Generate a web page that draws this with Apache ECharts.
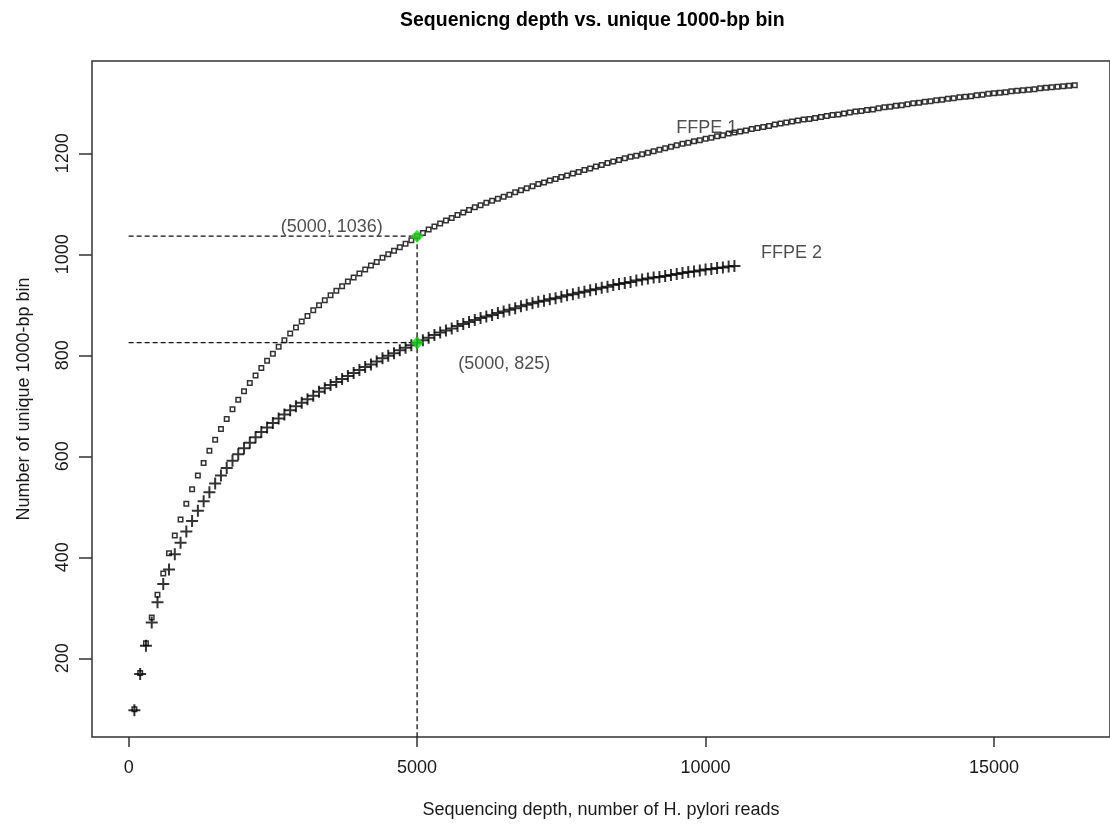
<!DOCTYPE html>
<html>
<head>
<meta charset="utf-8">
<title>Sequencing depth vs. unique 1000-bp bin</title>
<script src="https://cdn.jsdelivr.net/npm/echarts@6/dist/echarts.min.js"></script>
<style>
html, body { margin: 0; padding: 0; background: #fff; }
#chart { width: 1110px; height: 824px; }
</style>
</head>
<body>
<div id="chart"></div>
<script>
// sequencing depth (number of H. pylori reads), one step per subsample
var depth = [
	100,200,300,400,500,600,700,800,900,1000,1100,1200,1300,1400,1500,1600,1700,1800,1900,2000,
	2100,2200,2300,2400,2500,2600,2700,2800,2900,3000,3100,3200,3300,3400,3500,3600,3700,3800,3900,4000,
	4100,4200,4300,4400,4500,4600,4700,4800,4900,5000,5100,5200,5300,5400,5500,5600,5700,5800,5900,6000,
	6100,6200,6300,6400,6500,6600,6700,6800,6900,7000,7100,7200,7300,7400,7500,7600,7700,7800,7900,8000,
	8100,8200,8300,8400,8500,8600,8700,8800,8900,9000,9100,9200,9300,9400,9500,9600,9700,9800,9900,10000,
	10100,10200,10300,10400,10500,10600,10700,10800,10900,11000,11100,11200,11300,11400,11500,11600,11700,11800,11900,12000,
	12100,12200,12300,12400,12500,12600,12700,12800,12900,13000,13100,13200,13300,13400,13500,13600,13700,13800,13900,14000,
	14100,14200,14300,14400,14500,14600,14700,14800,14900,15000,15100,15200,15300,15400,15500,15600,15700,15800,15900,16000,
	16100,16200,16300,16400
];

// unique 1000-bp bins, FFPE 1 (squares)
var ffpe1 = [
	99,171,230,281,326,368,408,443,475,506,
	535,562,587,611,633,654,674,693,712,729,
	745,760,775,789,803,817,830,843,855,867,
	878,889,899,909,919,928,937,946,954,962,
	970,978,985,993,1000,1007,1014,1021,1028,1036,
	1042,1049,1055,1061,1067,1072,1078,1083,1088,1093,
	1097,1102,1106,1110,1114,1118,1123,1127,1131,1135,
	1139,1142,1146,1149,1153,1156,1160,1163,1167,1170,
	1174,1177,1181,1184,1187,1190,1193,1195,1198,1201,
	1204,1207,1210,1213,1216,1219,1221,1224,1226,1229,
	1231,1234,1236,1239,1241,1243,1245,1248,1250,1252,
	1254,1257,1259,1261,1263,1265,1267,1268,1270,1272,
	1274,1276,1277,1279,1281,1283,1284,1286,1287,1289,
	1291,1292,1294,1295,1297,1299,1300,1302,1303,1305,
	1306,1308,1309,1311,1312,1313,1315,1316,1318,1319,
	1320,1321,1323,1324,1325,1326,1327,1329,1330,1331,
	1332,1333,1334,1335
];

// unique 1000-bp bins, FFPE 2 (crosses)
var ffpe2 = [
	97,169,225,271,311,347,376,406,429,451,
	472,492,511,529,546,562,577,591,604,616,
	627,638,648,657,666,675,683,691,699,706,
	713,720,728,735,741,747,753,759,765,771,
	777,782,788,794,799,804,810,815,820,825,
	830,835,840,845,849,853,858,862,866,870,
	874,877,880,884,887,890,893,897,900,903,
	906,908,911,913,916,919,921,924,926,929,
	931,934,936,939,941,943,945,948,950,952,
	954,955,957,959,961,963,965,966,968,970,
	971,973,974,976,977
];

var xTicks = [0, 5000, 10000, 15000];
var yTicks = [200, 400, 600, 800, 1000, 1200];

var markDepth = 5000;
var markBins = [1036, 825];

var noteText = ['(5000, 1036)', '(5000, 825)', 'FFPE 1', 'FFPE 2'];
var noteAt = [[3520, 1054], [6510, 782], [10020, 1250], [11490, 1003]];

function pairs(ys){
	var out = [];
	for (var i = 0; i < ys.length; i++) {
		out.push([depth[i], ys[i]]);
	}
	return out;
}

function plain(v){
	return String(v);
}

var font = '"Liberation Sans", Arial, Helvetica, sans-serif';
var plus = 'path://M5,0h2v5h5v2h-5v5h-2v-5h-5v-2h5z';
var dashed = { color: '#111', width: 1.3, type: [5, 3] };

var chart = echarts.init(document.getElementById('chart'));

var notes = [];
for (var k = 0; k < noteText.length; k++) {
	notes.push({ name: noteText[k], value: noteAt[k] });
}

var option = {
	animation: false,
	backgroundColor: '#fff',
	title: {
		text: 'Sequenicng depth vs. unique 1000-bp bin',
		left: 395,
		top: 6,
		textStyle: { fontFamily: font, fontSize: 19.5, fontWeight: 'bold', color: '#000' }
	},
	grid: {
		left: 92, top: 61, right: -2, bottom: 87,
		show: true, borderColor: '#333', borderWidth: 1.5, backgroundColor: 'transparent'
	},
	xAxis: {
		type: 'value',
		min: -635,
		max: 17010,
		splitLine: { show: false },
		axisLine: { show: false, onZero: false },
		axisTick: { show: true, inside: false, length: 10, customValues: xTicks,
			lineStyle: { color: '#333', width: 1.5 } },
		axisLabel: { customValues: xTicks, formatter: plain, margin: 22,
			fontFamily: font, fontSize: 18, color: '#1a1a1a' },
		name: 'Sequencing depth, number of H. pylori reads',
		nameLocation: 'middle',
		nameGap: 64,
		nameTextStyle: { fontFamily: font, fontSize: 18, color: '#1a1a1a' }
	},
	yAxis: {
		type: 'value',
		min: 44.2,
		max: 1382.8,
		splitLine: { show: false },
		axisLine: { show: false, onZero: false },
		axisTick: { show: true, inside: false, length: 13, customValues: yTicks,
			lineStyle: { color: '#333', width: 1.5 } },
		axisLabel: { customValues: yTicks, formatter: plain, rotate: 90, margin: 20,
			fontFamily: font, fontSize: 18, color: '#1a1a1a' },
		name: 'Number of unique 1000-bp bin',
		nameLocation: 'middle',
		nameGap: 59,
		nameTextStyle: { fontFamily: font, fontSize: 18, color: '#1a1a1a' }
	},
	series: [
		{
			name: 'FFPE 2',
			type: 'scatter',
			symbol: plus,
			symbolSize: 12,
			itemStyle: { color: '#000' },
			data: pairs(ffpe2),
			z: 2
		},
		{
			name: 'FFPE 1',
			type: 'scatter',
			symbol: 'rect',
			symbolSize: 4.5,
			itemStyle: { color: 'transparent', borderColor: '#000', borderWidth: 1.5 },
			data: pairs(ffpe1),
			z: 3
		},
		{
			type: 'line',
			symbol: 'none',
			lineStyle: dashed,
			data: [[0, markBins[0]], [markDepth, markBins[0]]],
			z: 4
		},
		{
			type: 'line',
			symbol: 'none',
			lineStyle: dashed,
			data: [[0, markBins[1]], [markDepth, markBins[1]]],
			z: 4
		},
		{
			type: 'line',
			symbol: 'none',
			lineStyle: dashed,
			data: [[markDepth, markBins[0]], [markDepth, 0]],
			z: 4
		},
		{
			type: 'scatter',
			symbol: 'diamond',
			symbolSize: 13,
			itemStyle: { color: '#1ed21e' },
			data: [[markDepth, markBins[0]], [markDepth, markBins[1]]],
			z: 5
		},
		{
			type: 'scatter',
			symbolSize: 0,
			silent: true,
			data: notes,
			label: {
				show: true,
				position: 'inside',
				formatter: '{b}',
				fontFamily: font,
				fontSize: 18,
				color: '#222'
			},
			z: 6
		}
	]
};

chart.setOption(option);
</script>
</body>
</html>
